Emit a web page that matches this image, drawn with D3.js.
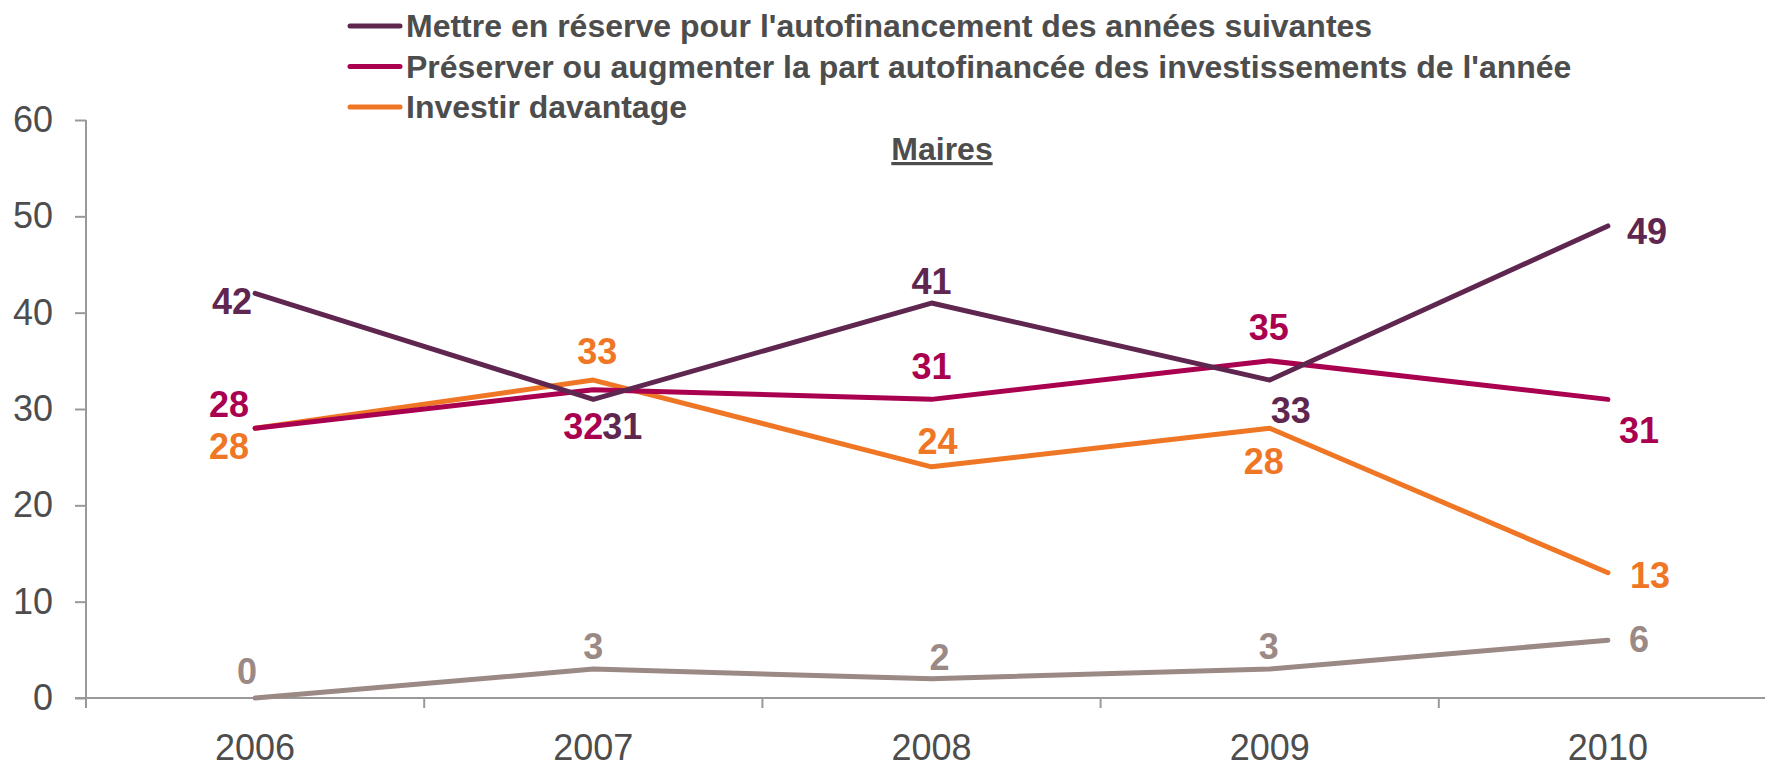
<!DOCTYPE html>
<html>
<head>
<meta charset="utf-8">
<script src="https://cdn.jsdelivr.net/npm/d3@7"></script>
<style>
  html, body { margin: 0; padding: 0; background: #fff; }
  svg { display: block; font-family: "Liberation Sans", Arial, sans-serif; }
</style>
</head>
<body>
<div id="chart"></div>
<script>
// data
const years = ["2006", "2007", "2008", "2009", "2010"]
const reserve = [42, 31, 41, 33, 49]
const preserver = [28, 32, 31, 35, 31]
const investir = [28, 33, 24, 28, 13]
const autre = [0, 3, 2, 3, 6]
const yTicks = [0, 10, 20, 30, 40, 50, 60]
const legendNames = [
  "Mettre en réserve pour l'autofinancement des années suivantes",
  "Préserver ou augmenter la part autofinancée des investissements de l'année",
  "Investir davantage"
]
const title = "Maires"

// label nudges (px from the point, label centre)
const labelNudge = [
  [[-23, 8], [29, 27], [0, -22], [21, 30], [39, 5]],
  [[-26, -24], [-10, 36], [0, -33], [-1, -34], [31, 31]],
  [[-26, 18], [4, -29], [6, -26], [-6, 33], [42, 2]],
  [[-8, -27], [0, -23], [8, -22], [-1, -23], [31, -1]]
]

const series = [
  { values: reserve, color: "#5f2650" },
  { values: preserver, color: "#a9004f" },
  { values: investir, color: "#ef7625" },
  { values: autre, color: "#9b8985" }
]

const W = 1765, H = 768
const svg = d3.select("#chart").append("svg")
    .attr("width", W).attr("height", H)

const x = d3.scaleBand().domain(years).range([86, 1777])
const y = d3.scaleLinear().domain([0, 60]).range([698, 120])
const cx = d => x(d) + x.bandwidth() / 2

// y axis
const yAxis = svg.append("g")
    .attr("transform", "translate(86,0)")
    .call(d3.axisLeft(y).tickValues(yTicks).tickSize(11).tickPadding(22))
yAxis.select(".domain").remove()
yAxis.append("line").attr("x1", 0).attr("x2", 0).attr("y1", 120).attr("y2", 708)
yAxis.selectAll("line").attr("stroke", "#999").attr("stroke-width", 2)
yAxis.selectAll("text").attr("fill", "#4d4d4d").style("font-size", "36px")

// x axis
const xg = svg.append("g").attr("transform", "translate(0,698)")
xg.append("line").attr("x1", 75).attr("x2", W).attr("stroke", "#999").attr("stroke-width", 2)
xg.selectAll(".tk").data(years.slice(1)).enter().append("line")
    .attr("x1", d => x(d)).attr("x2", d => x(d))
    .attr("y1", 0).attr("y2", 10)
    .attr("stroke", "#999").attr("stroke-width", 2)
xg.selectAll(".lab").data(years).enter().append("text")
    .attr("x", cx).attr("y", 62)
    .attr("text-anchor", "middle")
    .attr("fill", "#4d4d4d").style("font-size", "36px")
    .text(d => d)

// lines
const line = d3.line().x((d, i) => cx(years[i])).y(d => y(d))
series.slice().reverse().forEach(s => {
  svg.append("path").datum(s.values)
      .attr("d", line)
      .attr("fill", "none")
      .attr("stroke", s.color)
      .attr("stroke-width", 5)
      .attr("stroke-linecap", "round")
      .attr("stroke-linejoin", "round")
})

// value labels
series.forEach((s, si) => {
  svg.append("g").selectAll("text").data(s.values).enter().append("text")
      .attr("x", (d, i) => cx(years[i]) + labelNudge[si][i][0])
      .attr("y", (d, i) => y(d) + labelNudge[si][i][1] + 13)
      .attr("text-anchor", "middle")
      .attr("fill", s.color)
      .style("font-size", "36px").style("font-weight", "bold")
      .text(d => d)
})

// legend
const leg = svg.append("g")
legendNames.forEach((name, i) => {
  const by = 37 + i * 40.5
  leg.append("line")
      .attr("x1", 350).attr("x2", 400)
      .attr("y1", by - 11).attr("y2", by - 11)
      .attr("stroke", series[i].color).attr("stroke-width", 5)
      .attr("stroke-linecap", "round")
  leg.append("text")
      .attr("x", 406).attr("y", by)
      .attr("fill", "#4d4d4d")
      .style("font-size", "32px").style("font-weight", "bold")
      .text(name)
})

// title
svg.append("text")
    .attr("x", 942).attr("y", 160)
    .attr("text-anchor", "middle")
    .attr("fill", "#4d4d4d")
    .style("font-size", "32px").style("font-weight", "bold")
    .style("text-decoration", "underline")
    .text(title)
</script>
</body>
</html>
